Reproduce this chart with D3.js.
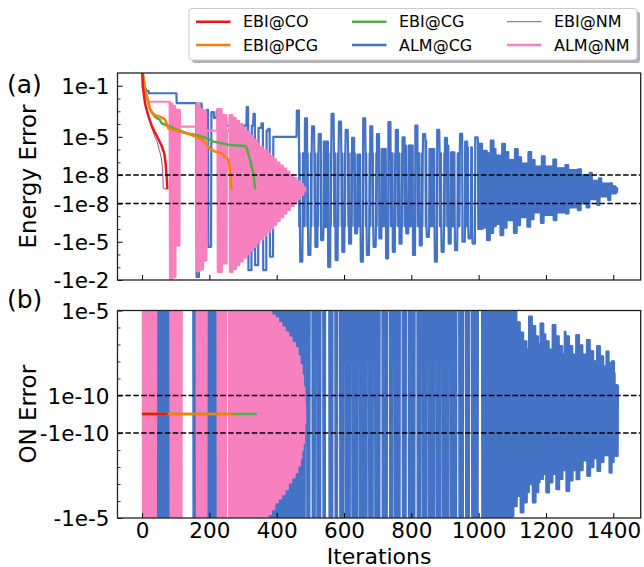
<!DOCTYPE html>
<html>
<head>
<meta charset="utf-8">
<script src="https://cdn.jsdelivr.net/npm/d3@7"></script>
<style>
  body { margin: 0; background: #fff; }
  text { font-family: "DejaVu Sans", sans-serif; fill: #000; }
</style>
</head>
<body>
<svg id="chart" width="644" height="567"></svg>
<script>
// ---------------------------------------------------------------
// Axis ticks and labels
// ---------------------------------------------------------------
const iterTicks = [0, 200, 400, 600, 800, 1000, 1200, 1400];
const energyTicks = [1e-1, 1e-5, 1e-8, -1e-8, -1e-5, -1e-2];
const energyTickLabels = ["1e-1", "1e-5", "1e-8", "-1e-8", "-1e-5", "-1e-2"];
const energyMinorTicks = [1e-7, 1e-6, 1e-4, 1e-3, 1e-2, -1e-7, -1e-6, -1e-4, -1e-3];
const onTicks = [1e-5, 1e-10, -1e-10, -1e-5];
const onTickLabels = ["1e-5", "1e-10", "-1e-10", "-1e-5"];
const onMinorTicks = [1e-9, 1e-8, 1e-7, 1e-6, -1e-9, -1e-8, -1e-7, -1e-6];
const energyThreshold = 1e-8;   // symlog linear threshold, panel (a)
const onThreshold = 1e-10;      // symlog linear threshold, panel (b)

const seriesNames = ["EBI@CO", "EBI@PCG", "EBI@CG", "ALM@CG", "EBI@NM", "ALM@NM"];
const seriesColors = ["#e41a1c", "#ff7f00", "#4daf4a", "#4472c4", "#984ea3", "#f781bf"];

// ---------------------------------------------------------------
// EBI runs: [iteration, error]
// ---------------------------------------------------------------
const ebiCoEnergy = [[0, 5], [2, 0.08], [4, 0.04], [9, 4e-3], [14, 1.2e-3], [19, 4e-4], [30, 6e-5],
  [45, 1e-5], [58, 2e-6], [66, 5e-7], [70, 8e-8], [73, 9e-9], [75, 1e-11]];
const ebiNmEnergy = [[0, 5], [2, 0.08], [4, 0.04], [9, 4e-3], [14, 1.2e-3], [20, 3e-4], [28, 6e-5],
  [38, 1e-5], [45, 4e-6], [51, 9e-7], [55, 4e-7], [58, 1.5e-7], [61, 3e-8], [63, 5e-10], [73, 1e-10]];
const ebiPcgEnergy = [[0, 5], [2, 1], [9, 0.045], [18, 5.6e-3], [23, 1.7e-3], [28, 9.3e-4], [38, 5e-4],
  [53, 3.8e-4], [68, 2.3e-4], [73, 1.15e-4], [78, 4.6e-5], [88, 3.8e-5], [103, 3e-5], [132, 1.9e-5],
  [162, 1e-5], [177, 6.3e-6], [190, 2.8e-6], [202, 1.2e-6], [217, 6.9e-7], [237, 5.1e-7],
  [246, 2.8e-7], [256, 1.7e-7], [261, 2.5e-8], [266, 1e-11]];
const ebiCgEnergy = [[0, 5], [2, 1], [9, 0.045], [18, 5.6e-3], [23, 1.7e-3], [28, 9e-4], [38, 3.8e-4],
  [53, 2.1e-4], [58, 1.15e-4], [73, 8e-5], [103, 3.8e-5], [132, 1.9e-5], [162, 1.4e-5], [192, 7.8e-6],
  [212, 4.2e-6], [261, 2.3e-6], [306, 1.9e-6], [311, 1.3e-6], [321, 1.5e-7], [331, 1.3e-8], [336, 1e-11]];

const ebiCoOn = [[0, 1e-12], [76, 1e-12]];
const ebiNmOn = [[0, 1e-12], [73, 1e-12]];
const ebiPcgOn = [[0, 1e-12], [271, 1e-12]];
const ebiCgOn = [[0, 1e-12], [341, 1e-12]];

// ---------------------------------------------------------------
// ALM runs: step rows [fromIteration, evenValue, oddValue].
// From each row's iteration on, even and odd iterations take the two
// values (one value = a plateau) until the next row starts.
// 1e-3 in the ON-error rows lies far beyond the axis limits.
// ---------------------------------------------------------------
const almCgEnergyEnd = 1412;
const almCgEnergy = [
  [8, 0.063], [12, 0.04], [20, 0.026], [103, 4.3e-3], [162, -5.8e-3], [170, 4e-3], [178, 1.1e-3],
  [193, 1.3e-3], [197, -2.5e-5], [206, 8.5e-4], [214, 3e-4], [222, 1.1e-3], [233, 3.4e-4], [251, 7.6e-5],
  [311, 2.1e-3], [316, -1.7e-3], [326, 7.6e-5], [331, 6.2e-4], [336, -6.9e-4], [346, 5e-5],
  [355, 1.15e-4], [360, -1.7e-3], [370, 3e-5], [375, 4.2e-5], [380, -1.5e-4], [390, 1e-5],
  [460, 1.15e-3], [467, 5e-7, -6e-7], [470, -3.7e-4], [477, 5e-7, -6e-7],
  [484, 2.8e-4], [491, 5e-7, -6e-7], [494, -1.1e-4], [501, 5e-7, -6e-7],
  [505, 6.6e-5], [512, 5e-7, -6e-7], [515, -2.5e-5], [522, 5e-7, -6e-7],
  [525, 1.65e-5], [532, -7.4e-6], [539, 4.2e-6, -7e-7],
  [553, -9.3e-4], [560, 5e-7, -6e-7], [563, 6.2e-4], [570, 5e-7, -6e-7],
  [575, -2.8e-4], [582, 5e-7, -6e-7], [585, 1.55e-4], [592, 5e-7, -6e-7],
  [595, -6.2e-5], [602, 5e-7, -6e-7], [605, 3.5e-5], [612, 5e-7, -6e-7],
  [615, -1.4e-5], [622, 5e-7, -6e-7], [624, 8.1e-6], [631, 5e-7, -6e-7],
  [633, -2.2e-6], [640, 4e-7, -6e-7],
  [650, -3.7e-4], [657, 2.8e-4], [664, 5e-7, -6e-7],
  [668, -1.1e-4], [675, 5e-7, -6e-7], [678, 6.6e-5], [685, 5e-7, -6e-7],
  [688, -2.5e-5], [695, 5e-7, -6e-7], [698, 1.65e-5], [705, -5.5e-6], [712, 1.1e-6, -6e-7],
  [725, -2e-4], [732, 1.4e-4], [739, 5e-7, -6e-7],
  [745, -6.2e-5], [752, 5e-7, -6e-7], [754, 3.5e-5], [761, 5e-7, -6e-7],
  [765, -1.4e-5], [772, 5e-7, -6e-7], [774, 9.1e-6], [781, 2e-6, -6e-7],
  [785, -2.2e-6], [792, 2e-6, -6e-7],
  [805, -1.1e-4], [812, 7.6e-5], [819, 5e-7, -6e-7],
  [825, -1.9e-5], [832, 5e-7, -6e-7], [835, 1.65e-5], [842, 5e-6, -6e-7],
  [846, -4.1e-6], [853, 1.1e-6, -6e-7],
  [870, -3.7e-4], [877, 3.5e-5], [884, 5e-7, -6e-7],
  [890, -6.2e-5], [897, 5e-7, -6e-7], [900, 8.1e-6], [907, 2e-6, -6e-7],
  [911, -1.4e-5], [918, 6e-7, -6e-7],
  [930, -4.6e-5], [937, 5e-7, -6e-7],
  [945, 1.7e-5], [952, -1e-5],
  [960, 4.2e-6, -6e-7], [967, 1.5e-6, -6e-7], [970, -5.5e-6], [977, 1.5e-6, -1.5e-6],
  [982, -1.4e-5], [990, 9e-6], [998, 2.8e-6, -1e-6], [1012, 8e-7, -8e-7],
  [1025, 5e-7, -7.4e-6], [1035, 5e-6, -2e-6], [1045, 1.1e-6, -6e-7], [1052, 3.4e-7, -4e-7],
  [1065, 3e-7, -3e-6], [1070, 2.8e-6, -3e-6], [1075, 2.8e-6, -8e-7], [1080, 6.2e-7, -8e-7],
  [1085, 6.2e-7, -2e-7], [1090, 1.5e-7, -2e-7],
  [1105, 1.5e-7, -2e-6], [1108, 1.1e-6, -2e-6], [1115, 1.1e-6, -5e-7], [1118, 2.5e-7, -5e-7],
  [1125, 2.5e-7, -1.2e-7], [1128, 8e-8, -1.2e-7],
  [1145, 8e-8, -6.7e-7], [1148, 6.2e-7, -6.7e-7], [1155, 6.2e-7, -1.7e-7], [1158, 1.5e-7, -1.7e-7],
  [1165, 1.5e-7, -5e-8], [1168, 4.6e-8, -5e-8],
  [1185, 4.6e-8, -3.3e-7], [1188, 3e-7, -3.3e-7], [1195, 3e-7, -8e-8], [1198, 4.6e-8, -8e-8],
  [1222, 1.6e-7, -2e-7], [1232, 3.4e-8, -5e-8],
  [1258, 6e-8, -6e-8], [1268, 2.5e-8, -2e-8],
  [1295, 2.8e-8, -3.3e-8], [1305, 1e-8, -1e-8],
  [1320, 1e-8, -2e-8], [1330, 1.5e-8, -7e-9], [1338, 6e-9, -7e-9],
  [1353, 6e-9, -1.3e-8], [1358, 7.7e-9, -1.3e-8], [1361, 7.7e-9, -5e-9], [1366, 4e-9, -5e-9],
  [1385, 4e-9, -7.7e-9], [1390, 4.1e-9, -7.7e-9], [1393, 4.1e-9, -3e-9], [1398, 2e-9, -3e-9],
  [1408, 1e-9, -2e-9]
];

const almNmEnergyEnd = 485;
const almNmEnergy = [
  [13, 0.014], [16, 6e-3], [20, 5.6e-3],
  [83, 4e-3, -8e-3], [92, 2.5e-3, -6e-3], [100, 1.3e-3, -2e-5], [113, 6.2e-5],
  [162, 4e-3, -2e-3], [172, 1.5e-3, -1.5e-3], [182, 1e-3, -3e-4], [192, 3e-5],
  [224, 1.5e-3, -2.3e-3], [238, 5e-4, -5e-4], [252, 3e-5],
  [260, 5e-4, -2.3e-3], [270, 3e-4, -1.35e-3], [280, 1.8e-4, -6.9e-4], [290, 1e-4, -3.5e-4],
  [300, 5e-5, -1.8e-4], [310, 2.5e-5, -9.3e-5], [320, 1.2e-5, -4.8e-5], [330, 6e-6, -2.5e-5],
  [340, 3e-6, -1.25e-5], [350, 1.55e-6, -6.5e-6], [360, 8.9e-7, -3.3e-6], [370, 5.1e-7, -1.7e-6],
  [380, 2.9e-7, -8.9e-7], [390, 1.7e-7, -4.6e-7], [400, 9.5e-8, -2.3e-7], [410, 5.5e-8, -1.2e-7],
  [420, 3.2e-8, -6.2e-8], [430, 1.8e-8, -3.2e-8], [440, 1e-8, -1.6e-8], [450, 7.9e-9, -9.3e-9],
  [460, 5.8e-9, -6.6e-9], [470, 3.6e-9, -4e-9], [480, 1.4e-9, -1.5e-9]
];

const almCgOnEnd = 1414;
const almCgOn = [
  [8, 1e-3],
  [43, 1e-3, -1e-3], [50, 1e-3], [53, 1e-3, -1e-3], [61, 1e-3], [64, 1e-3, -1e-3], [73, 1e-3], [76, 1e-3, -1e-3],
  [85, 1e-3],
  [152, 1e-3, -1e-3], [157, 1e-3], [159, 1e-3, -1e-3],
  [162, 1e-3],
  [192, 1e-3, -1e-3], [199, 1e-3], [202, 1e-3, -1e-3], [209, 1e-3], [212, 1e-3, -1e-3], [217, 1e-3], [220, 1e-3, -1e-3],
  [224, 1e-3],
  [360, 1e-3, -1e-3],
  [484, 1e-3], [491, 1e-3, -1e-3], [499, 1e-3], [506, 1e-3, -1e-3], [514, 1e-3], [521, 1e-3, -1e-3],
  [531, 1e-3], [538, 1e-3, -1e-3], [544, 1e-3], [556, 1e-3, -1e-3],
  [567, 1e-3], [574, 1e-3, -1e-3], [581, 1e-3], [588, 1e-3, -1e-3], [598, 1e-3], [605, 1e-3, -1e-3],
  [618, 1e-3], [625, 1e-3, -1e-3], [640, 1e-3], [647, 1e-3, -1e-3], [668, 1e-3], [675, 1e-3, -1e-3],
  [686, 1e-3], [693, 1e-3, -1e-3], [707, 1e-3], [714, 1e-3, -1e-3], [729, 1e-3], [736, 1e-3, -1e-3],
  [744, 1e-3], [751, 1e-3, -1e-3], [767, 1e-3], [774, 1e-3, -1e-3], [785, 1e-3], [792, 1e-3, -1e-3],
  [811, 1e-3], [818, 1e-3, -1e-3], [828, 1e-3], [835, 1e-3, -1e-3], [846, 1e-3], [853, 1e-3, -1e-3],
  [868, 1e-3], [875, 1e-3, -1e-3], [886, 1e-3], [893, 1e-3, -1e-3], [910, 1e-3], [917, 1e-3, -1e-3],
  [935, 1e-3], [942, 1e-3, -1e-3], [955, 1e-3], [962, 1e-3, -1e-3], [973, 1e-3], [980, 1e-3, -1e-3],
  [998, 1e-3], [1010, 1e-3, -1e-3],
  [1094, 2e-5, -8e-6], [1104, 9e-6, -2e-6], [1114, 2e-6, -5e-7], [1124, 5e-7, -4.7e-6],
  [1134, 1.5e-7, -1.2e-6], [1144, 5e-8, -3e-7], [1150, 4.3e-6, -1e-7], [1160, 1.2e-6, -1.2e-6],
  [1170, 3e-7, -3e-7], [1178, 1e-7, -8e-8], [1183, 1.7e-6, -5e-8], [1193, 4e-7, -2.5e-8],
  [1200, 1.5e-7, -3.1e-7], [1210, 5e-8, -8e-8], [1220, 1.4e-6, -2.5e-8], [1230, 3e-7, -2e-7],
  [1240, 8e-8, -5e-8], [1250, 2.5e-8, -1.5e-8], [1255, 5.6e-7, -1.5e-8], [1260, 3e-7, -2.5e-7],
  [1270, 8e-8, -6e-8], [1280, 2.5e-8, -1.5e-8], [1290, 3.5e-7, -5.2e-8], [1300, 9e-8, -1.5e-8],
  [1310, 2.5e-8, -4e-9], [1322, 1.8e-7, -3.3e-8], [1332, 4e-8, -1e-8], [1342, 1e-8, -3e-9],
  [1352, 8e-8, -1.7e-8], [1362, 2e-8, -5e-9], [1372, 5e-9, -2e-9], [1380, 3.8e-8, -2e-9],
  [1388, 8e-9, -2.1e-8], [1396, 1e-8, -5e-9], [1403, 2e-9, -2e-9], [1406, 4e-10, -2.2e-9]
];

const almNmOnEnd = 485;
const almNmOn = [
  [2, 1e-3, -1e-3], [43, 1e-3],
  [85, 1e-3, -1e-3], [118, 1e-3],
  [162, 1e-3, -1e-3], [192, 1e-3],
  [224, 1e-3, -1e-3], [250, 1e-3],
  [259, 1e-3, -1e-3],
  [375, 8e-6, -6e-6], [385, 5e-6, -3e-6], [395, 3.5e-6, -1.2e-6], [405, 1.8e-6, -7e-7],
  [415, 1e-6, -4e-7], [425, 5e-7, -2e-7], [435, 2.5e-7, -8e-8], [445, 1.2e-7, -4e-8],
  [455, 6e-8, -2e-8], [463, 2e-8, -8e-9], [470, 6e-9, -3e-9], [475, 1.5e-9, -1e-9],
  [479, 3e-10, -4e-10], [483, 5e-11, -5e-11]
];

// ---------------------------------------------------------------
// Helpers
// ---------------------------------------------------------------
const LINSCALE = 1 / (1 - 1 / 10);
// matplotlib-style symmetric log transform (base 10, linscale 1)
function symlog(v, t) {
  const a = Math.abs(v);
  return a <= t ? (v / t) * LINSCALE : Math.sign(v) * (LINSCALE + Math.log10(a / t));
}
// expand step rows into one point per iteration
function expandRows(rows, end) {
  const pts = [];
  rows.forEach((r, k) => {
    const stop = k + 1 < rows.length ? rows[k + 1][0] : end + 1;
    const even = r[1], odd = r.length > 2 ? r[2] : r[1];
    for (let i = r[0]; i < stop; i++) pts.push([i, i % 2 === 0 ? even : odd]);
  });
  return pts;
}

// ---------------------------------------------------------------
// Layout
// ---------------------------------------------------------------
const svg = d3.select("#chart");
const plotLeft = 117.5, plotRight = 640.7;
const x = d3.scaleLinear().domain([-73, 1481.5]).range([plotLeft, plotRight]);

const panels = [
  {
    id: "a", top: 73, bottom: 280, thr: energyThreshold, min: -1e-2, max: 1,
    ticks: energyTicks, labels: energyTickLabels, minor: energyMinorTicks,
    ylabel: "Energy Error", tag: "(a)", tagY: 93, showX: false,
    series: [
      { pts: expandRows(almCgEnergy, almCgEnergyEnd), color: seriesColors[3], w: 2.2 },
      { pts: expandRows(almNmEnergy, almNmEnergyEnd), color: seriesColors[5], w: 2.2 },
      { pts: ebiCgEnergy, color: seriesColors[2], w: 2.5 },
      { pts: ebiPcgEnergy, color: seriesColors[1], w: 2.5 },
      { pts: ebiNmEnergy, color: seriesColors[4], w: 1 },
      { pts: ebiCoEnergy, color: seriesColors[0], w: 2.5 }
    ]
  },
  {
    id: "b", top: 310.5, bottom: 518, thr: onThreshold, min: -1e-5, max: 1e-5,
    ticks: onTicks, labels: onTickLabels, minor: onMinorTicks,
    ylabel: "ON Error", tag: "(b)", tagY: 307.5, showX: true,
    series: [
      { pts: expandRows(almCgOn, almCgOnEnd), color: seriesColors[3], w: 2.2 },
      { pts: expandRows(almNmOn, almNmOnEnd), color: seriesColors[5], w: 2.2 },
      { pts: ebiNmOn, color: seriesColors[4], w: 1 },
      { pts: ebiCgOn, color: seriesColors[2], w: 2.5 },
      { pts: ebiPcgOn, color: seriesColors[1], w: 2.5 },
      { pts: ebiCoOn, color: seriesColors[0], w: 2.5 }
    ]
  }
];

const defs = svg.append("defs");

panels.forEach(p => {
  const y = d3.scaleLinear()
    .domain([symlog(p.min, p.thr), symlog(p.max, p.thr)])
    .range([p.bottom, p.top]);
  const g = svg.append("g");

  defs.append("clipPath").attr("id", "clip-" + p.id)
    .append("rect")
    .attr("x", plotLeft).attr("y", p.top)
    .attr("width", plotRight - plotLeft).attr("height", p.bottom - p.top);

  const plot = g.append("g").attr("clip-path", `url(#clip-${p.id})`);
  const line = d3.line()
    .x(d => x(d[0]))
    .y(d => y(symlog(d[1], p.thr)));

  p.series.forEach(s => {
    plot.append("path")
      .attr("d", line(s.pts))
      .attr("fill", "none")
      .attr("stroke", s.color)
      .attr("stroke-width", s.w)
      .attr("stroke-linejoin", "round")
      .attr("stroke-linecap", "butt");
  });

  // threshold guides
  [p.thr, -p.thr].forEach(v => {
    plot.append("line")
      .attr("x1", plotLeft).attr("x2", plotRight)
      .attr("y1", y(symlog(v, p.thr))).attr("y2", y(symlog(v, p.thr)))
      .attr("stroke", "#000").attr("stroke-width", 1.5)
      .attr("stroke-dasharray", "5.5,2.4");
  });

  // y axis (ticks drawn inward)
  const yAxis = d3.axisLeft(y)
    .tickValues(p.ticks.map(v => symlog(v, p.thr)))
    .tickFormat((d, i) => p.labels[i])
    .tickSize(-5).tickPadding(8);
  const ya = g.append("g").attr("transform", `translate(${plotLeft},0)`).call(yAxis);
  ya.select(".domain").remove();
  ya.selectAll("line").attr("stroke", "#000").attr("stroke-width", 1);
  ya.selectAll("text").attr("font-size", 21.5).attr("dy", "0.36em")
    .style("font-family", "DejaVu Sans, sans-serif");

  const yMinor = d3.axisLeft(y)
    .tickValues(p.minor.map(v => symlog(v, p.thr)))
    .tickFormat("").tickSize(-3);
  const ym = g.append("g").attr("transform", `translate(${plotLeft},0)`).call(yMinor);
  ym.select(".domain").remove();
  ym.selectAll("line").attr("stroke", "#000").attr("stroke-width", 0.8);

  // x axis (ticks drawn inward)
  const xAxis = d3.axisBottom(x)
    .tickValues(iterTicks)
    .tickFormat(p.showX ? d3.format("d") : "")
    .tickSize(-5).tickPadding(4.3);
  const xa = g.append("g").attr("transform", `translate(0,${p.bottom})`).call(xAxis);
  xa.select(".domain").remove();
  xa.selectAll("line").attr("stroke", "#000").attr("stroke-width", 1);
  xa.selectAll("text").attr("font-size", 21.5)
    .style("font-family", "DejaVu Sans, sans-serif");

  // frame
  g.append("rect")
    .attr("x", plotLeft).attr("y", p.top)
    .attr("width", plotRight - plotLeft).attr("height", p.bottom - p.top)
    .attr("fill", "none").attr("stroke", "#222").attr("stroke-width", 1.3);

  // y label
  g.append("text")
    .attr("transform", `translate(36,${(p.top + p.bottom) / 2}) rotate(-90)`)
    .attr("text-anchor", "middle")
    .attr("font-size", 23)
    .text(p.ylabel);

  // panel tag
  g.append("text")
    .attr("x", 7).attr("y", p.tagY)
    .attr("font-size", 25)
    .text(p.tag);
});

// x label
svg.append("text")
  .attr("x", (plotLeft + plotRight) / 2).attr("y", 563.5)
  .attr("text-anchor", "middle")
  .attr("font-size", 22)
  .text("Iterations");

// ---------------------------------------------------------------
// Legend (3 columns, column-major order)
// ---------------------------------------------------------------
const legend = svg.append("g");
const lgX = 189, lgY = 8.5, lgW = 448, lgH = 51.5;
legend.append("rect")
  .attr("x", lgX + 3).attr("y", lgY + 3).attr("width", lgW).attr("height", lgH)
  .attr("rx", 3).attr("fill", "#000").attr("opacity", 0.3);
legend.append("rect")
  .attr("x", lgX).attr("y", lgY).attr("width", lgW).attr("height", lgH)
  .attr("rx", 3).attr("fill", "#fff").attr("stroke", "#cccccc").attr("stroke-width", 1);

const colX = [196, 352, 507];
const rowY = [21.7, 45];
const legendWidths = [2.5, 2.5, 2.5, 2.5, 1, 2.5];
seriesNames.forEach((name, i) => {
  const cx = colX[Math.floor(i / 2)], cy = rowY[i % 2];
  legend.append("line")
    .attr("x1", cx).attr("x2", cx + 34.5)
    .attr("y1", cy).attr("y2", cy)
    .attr("stroke", seriesColors[i]).attr("stroke-width", legendWidths[i]);
  legend.append("text")
    .attr("x", cx + 47).attr("y", cy + 5.6)
    .attr("font-size", 16)
    .text(name);
});
</script>
</body>
</html>
